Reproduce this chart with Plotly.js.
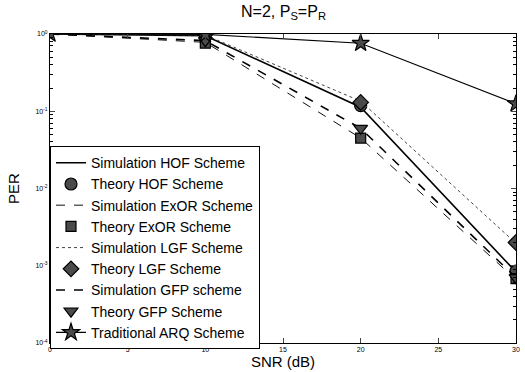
<!DOCTYPE html>
<html><head><meta charset="utf-8">
<script src="https://cdn.plot.ly/plotly-3.0.1.min.js"></script>
<style>html,body{margin:0;padding:0;background:#fff}#chart{width:525px;height:372px}</style>
</head><body><div id="chart"></div>
<script>
const snr = [0, 10, 20, 30];
const simHOF  = [1.0, 0.95, 0.113, 0.00083];
const thHOF   = [null, 0.97, 0.118, 0.00085];
const simExOR = [1.0, 0.78, 0.045, 0.00066];
const thExOR  = [null, 0.76, 0.045, 0.00068];
const simLGF  = [1.0, 0.97, 0.135, 0.00195];
const thLGF   = [null, 1.0, 0.13, 0.0020];
const simGFP  = [1.0, 0.82, 0.06, 0.00070];
const thGFP   = [null, 0.82, 0.06, 0.00070];
const arq     = [1.0, 0.99, 0.76, 0.125];
const xTicks = [0, 5, 10, 15, 20, 25, 30];
const yTickVals = [1e-4, 1e-3, 1e-2, 1e-1, 1];
const yTickText = ['10<sup>-4</sup>', '10<sup>-3</sup>', '10<sup>-2</sup>', '10<sup>-1</sup>', '10<sup>0</sup>'];

// minor tick positions (2..9 in each decade) for the log axis
const minorVals = [];
[1e-4, 1e-3, 1e-2, 1e-1].forEach(d => { for (let k = 2; k <= 9; k++) minorVals.push(k * d); });

const mk = (sym, size) => ({symbol: sym, size: size, color: '#4a4a4a', line: {color: '#000', width: 1.2}});
const traces = [
  {name: 'Simulation HOF Scheme', x: snr, y: simHOF, mode: 'lines', line: {color: '#000', width: 1.6}},
  {name: 'Theory HOF Scheme', x: snr, y: thHOF, mode: 'markers', marker: mk('circle', 12)},
  {name: 'Simulation ExOR Scheme', x: snr, y: simExOR, mode: 'lines', line: {color: '#111', width: 1, dash: 'dash'}},
  {name: 'Theory ExOR Scheme', x: snr, y: thExOR, mode: 'markers', marker: mk('square', 10)},
  {name: 'Simulation LGF Scheme', x: snr, y: simLGF, mode: 'lines', line: {color: '#444', width: 1, dash: 'dot'}},
  {name: 'Theory LGF Scheme', x: snr, y: thLGF, mode: 'markers', marker: mk('diamond', 12)},
  {name: 'Simulation GFP scheme', x: snr, y: simGFP, mode: 'lines', line: {color: '#000', width: 1.6, dash: 'dash'}},
  {name: 'Theory GFP Scheme', x: snr, y: thGFP, mode: 'markers', marker: mk('triangle-down', 12)},
  {name: 'Traditional ARQ Scheme', x: snr, y: arq, mode: 'lines+markers', line: {color: '#000', width: 1.1}, marker: mk('star', 13)},
  // invisible helper so the minor-tick axis is drawn
  {x: [0], y: [1], yaxis: 'y2', mode: 'markers', marker: {opacity: 0}, showlegend: false, hoverinfo: 'skip'}
];

const layout = {
  width: 525, height: 372,
  margin: {l: 50, r: 9, t: 34, b: 29},
  paper_bgcolor: '#fff', plot_bgcolor: '#fff',
  font: {family: 'Liberation Sans, Arial, sans-serif', color: '#000'},
  title: {text: 'N=2, P<sub>S</sub>=P<sub>R</sub>', x: 0.54, xanchor: 'center', y: 0.985, yanchor: 'top', font: {size: 16}},
  xaxis: {
    range: [0, 30], tickvals: xTicks, ticks: 'inside', ticklen: 5, mirror: 'ticks',
    showline: true, linecolor: '#000', linewidth: 1, showgrid: false, zeroline: false,
    tickfont: {size: 7}, title: {text: 'SNR (dB)', font: {size: 15}, standoff: 2}
  },
  yaxis: {
    type: 'log', range: [-4, 0], tickmode: 'array', tickvals: yTickVals, ticktext: yTickText,
    ticks: 'inside', ticklen: 5, mirror: 'ticks', showline: true, linecolor: '#000', linewidth: 1,
    showgrid: false, zeroline: false, tickfont: {size: 7},
    title: {text: 'PER', font: {size: 15}, standoff: 12}
  },
  yaxis2: {
    type: 'log', range: [-4, 0], overlaying: 'y', side: 'left', tickmode: 'array', tickvals: minorVals,
    ticks: 'inside', ticklen: 3, tickcolor: '#000', mirror: 'ticks', showline: false,
    showgrid: false, zeroline: false, showticklabels: false
  },
  showlegend: true,
  legend: {
    x: 0, y: -0.02, xanchor: 'left', yanchor: 'bottom', bgcolor: '#fff', maxheight: 330,
    bordercolor: '#000', borderwidth: 1, font: {size: 14}, tracegroupgap: 0, itemwidth: 30
  }
};
Plotly.newPlot('chart', traces, layout, {displayModeBar: false, staticPlot: true});
</script>
</body></html>
